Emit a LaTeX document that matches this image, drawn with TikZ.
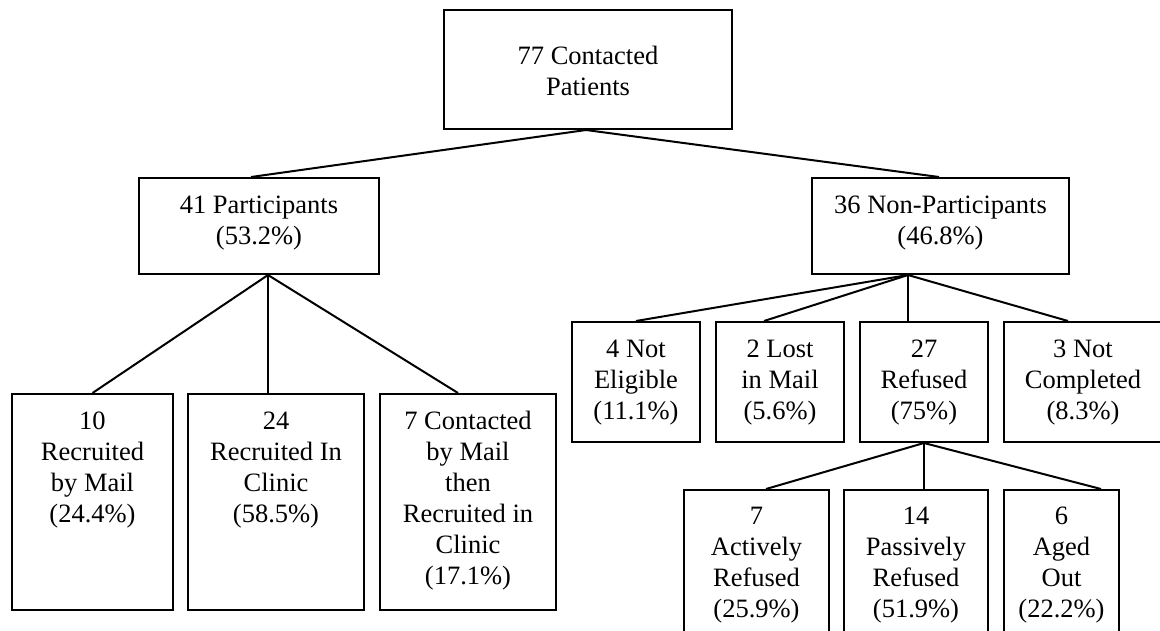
\documentclass[tikz,border=0pt]{standalone}
\usepackage{fontspec}
\setmainfont{Liberation Serif}
\tikzset{
  box/.style={draw, line width=2pt, inner sep=0pt, anchor=north west,
    font=\fontsize{26.5}{31}\selectfont},
  link/.style={line width=2pt}
}
\newcommand\bxnode[7]{%
  \node[box] (#1) at (#2,#3)
  {\parbox[c][\dimexpr #5pt-#3pt\relax][t]{\dimexpr #4pt-#2pt\relax}{\centering\rule{0pt}{#6pt}#7\par}};}
\begin{document}
\begin{tikzpicture}[x=1pt,y=-1pt]
\useasboundingbox (0,0) rectangle (1160,630);
\clip (0,0) rectangle (1160,630);
\bxnode{top}{443}{9}{731}{128}{54}{77 Contacted\\Patients}
\bxnode{part}{138}{177}{378}{273}{35}{41 Participants\\(53.2\%)}
\bxnode{nonp}{811}{177}{1068}{273}{35}{36 Non-Participants\\(46.8\%)}
\bxnode{rm}{11}{393}{172}{609}{35}{10\\Recruited\\by Mail\\(24.4\%)}
\bxnode{rc}{187}{393}{363}{609}{35}{24\\Recruited In\\Clinic\\(58.5\%)}
\bxnode{cm}{379}{393}{555}{609}{35}{7 Contacted\\by Mail\\then\\Recruited in\\Clinic\\(17.1\%)}
\bxnode{ne}{571}{321}{699}{441}{35}{4 Not\\Eligible\\(11.1\%)}
\bxnode{lm}{715}{321}{843}{441}{35}{2 Lost\\in Mail\\(5.6\%)}
\bxnode{rf}{859}{321}{987}{441}{35}{27\\Refused\\(75\%)}
\bxnode{nc}{1003}{321}{1161}{441}{35}{3 Not\\Completed\\(8.3\%)}
\bxnode{ar}{683}{489}{828}{650}{34}{7\\Actively\\Refused\\(25.9\%)}
\bxnode{pr}{843}{489}{987}{650}{34}{14\\Passively\\Refused\\(51.9\%)}
\bxnode{ao}{1003}{489}{1118}{650}{34}{6\\Aged\\Out\\(22.2\%)}
% connectors
\draw[link] ([xshift=-2pt]top.south) -- ([xshift=-8pt]part.north);
\draw[link] ([xshift=-2pt]top.south) -- ([xshift=-1.5pt]nonp.north);
\draw[link] ([xshift=9pt]part.south) -- (rm.north);
\draw[link] ([xshift=9pt]part.south) -- ([xshift=-8pt]rc.north);
\draw[link] ([xshift=9pt]part.south) -- ([xshift=-10pt]cm.north);
\draw[link] ([xshift=-32.5pt]nonp.south) -- (ne.north);
\draw[link] ([xshift=-32.5pt]nonp.south) -- ([xshift=-16pt]lm.north);
\draw[link] ([xshift=-32.5pt]nonp.south) -- ([xshift=-16pt]rf.north);
\draw[link] ([xshift=-32.5pt]nonp.south) -- ([xshift=-15pt]nc.north);
\draw[link] (rf.south) -- ([xshift=9.5pt]ar.north);
\draw[link] (rf.south) -- ([xshift=8pt]pr.north);
\draw[link] (rf.south) -- ([xshift=39.5pt]ao.north);
\end{tikzpicture}
\end{document}
